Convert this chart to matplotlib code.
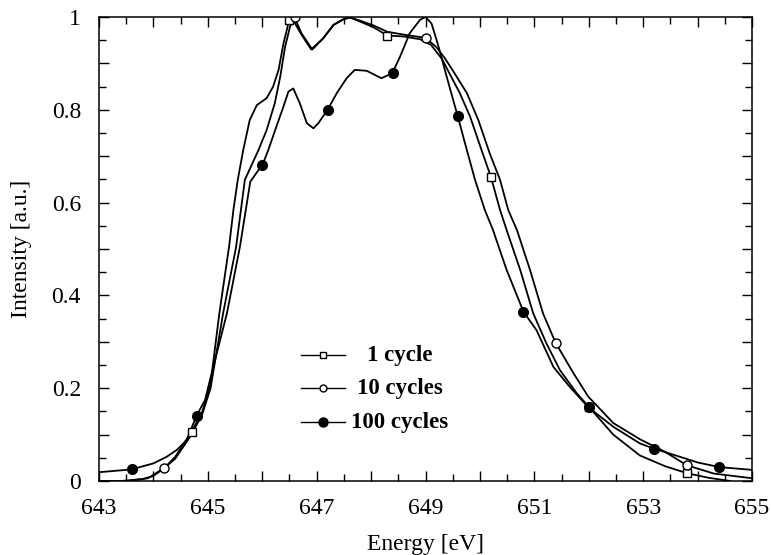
import matplotlib
matplotlib.use("Agg")
import matplotlib.pyplot as plt
from matplotlib.ticker import MultipleLocator, FuncFormatter

plt.rcParams["font.family"] = ["Liberation Serif", "DejaVu Serif"]

# spectra (energy in eV, normalised intensity)
e_1 = [643.0, 643.4, 643.8, 644.0, 644.2, 644.4, 644.7, 644.9, 645.05, 645.21,
       645.39, 645.47, 645.55, 645.65, 645.77, 645.9, 646.08, 646.2, 646.3,
       646.39, 646.48, 646.54, 646.72, 646.9, 647.12, 647.31, 647.49, 647.61,
       647.8, 648.04, 648.3, 648.6, 648.9, 649.1, 649.3, 649.5, 649.63, 649.82,
       650.03, 650.2, 650.37, 650.49, 650.74, 650.98, 651.22, 651.47, 651.78,
       652.0, 652.45, 652.94, 653.4, 653.8, 654.2, 654.6]
i_1 = [0.0, 0.0, 0.004, 0.011, 0.028, 0.052, 0.106, 0.15, 0.21, 0.36,
       0.505, 0.584, 0.649, 0.713, 0.778, 0.81, 0.825, 0.85, 0.886,
       0.943, 0.986, 0.999, 0.962, 0.93, 0.954, 0.983, 0.995, 0.999,
       0.99, 0.978, 0.96, 0.958, 0.952, 0.94, 0.91, 0.865, 0.836, 0.785,
       0.713, 0.656, 0.584, 0.541, 0.455, 0.361, 0.297, 0.239, 0.189,
       0.16, 0.1, 0.055, 0.032, 0.017, 0.007, 0.0]

e_10 = [643.5, 643.9, 644.2, 644.4, 644.7, 644.9, 645.05, 645.28, 645.52,
        645.68, 645.93, 646.08, 646.23, 646.33, 646.42, 646.51, 646.59, 646.72,
        646.92, 647.12, 647.31, 647.49, 647.61, 647.8, 648.04, 648.3, 648.6,
        649.0, 649.2, 649.35, 649.5, 649.76, 649.97, 650.18, 650.37, 650.52,
        650.68, 650.92, 651.16, 651.39, 651.72, 651.99, 652.45, 652.94, 653.4,
        653.8, 654.3, 655.0]
i_10 = [0.0, 0.006, 0.028, 0.048, 0.1, 0.145, 0.2, 0.361, 0.505,
        0.649, 0.713, 0.756, 0.814, 0.871, 0.936, 0.979, 1.0, 0.965,
        0.93, 0.954, 0.983, 0.995, 0.999, 0.992, 0.982, 0.968, 0.962,
        0.955, 0.935, 0.912, 0.885, 0.836, 0.778, 0.706, 0.649, 0.584,
        0.541, 0.455, 0.361, 0.298, 0.232, 0.182, 0.125, 0.09, 0.063,
        0.034, 0.016, 0.006]

e_100 = [643.0, 643.6, 643.75, 644.0, 644.24, 644.43, 644.61, 644.79, 644.95,
         645.04, 645.35, 645.59, 645.78, 645.93, 646.0, 646.11, 646.26, 646.39,
         646.48, 646.57, 646.69, 646.82, 646.94, 647.03, 647.2, 647.37, 647.55,
         647.7, 647.92, 648.19, 648.39, 648.53, 648.71, 648.9, 649.0, 649.11,
         649.24, 649.39, 649.59, 649.76, 649.91, 650.09, 650.24, 650.49, 650.8,
         651.04, 651.35, 651.65, 651.99, 652.45, 652.94, 653.19, 653.6, 654.0,
         654.4, 655.0]
i_100 = [0.019, 0.025, 0.03, 0.038, 0.052, 0.067, 0.088, 0.14, 0.175,
         0.218, 0.361, 0.505, 0.645, 0.67, 0.68, 0.713, 0.764, 0.807,
         0.839, 0.846, 0.814, 0.771, 0.76, 0.771, 0.8, 0.836, 0.868,
         0.886, 0.884, 0.868, 0.879, 0.914, 0.965, 0.994, 1.0, 0.986,
         0.936, 0.871, 0.787, 0.713, 0.649, 0.584, 0.541, 0.455, 0.365,
         0.325, 0.246, 0.203, 0.159, 0.117, 0.081, 0.07, 0.055, 0.04,
         0.03, 0.024]

# sparse symbols drawn on the curves
m1_e = [644.7, 646.5, 648.3, 650.2, 652.0, 653.8]
m1_i = [0.106, 0.993, 0.958, 0.656, 0.16, 0.018]
m10_e = [644.2, 646.6, 649.0, 651.4, 653.8]
m10_i = [0.028, 1.0, 0.955, 0.298, 0.034]
m100_e = [643.6, 644.8, 646.0, 647.2, 648.4, 649.6, 650.8, 652.0, 653.2, 654.4]
m100_i = [0.025, 0.14, 0.68, 0.80, 0.88, 0.787, 0.365, 0.159, 0.07, 0.03]

labels = ["1 cycle", "10 cycles", "100 cycles"]

fig = plt.figure(figsize=(7.71, 5.55), dpi=100)
ax = fig.add_axes([0.1284, 0.1333, 0.8470, 0.8361])

lw = 1.3
ax.plot(e_1, i_1, color="black", lw=lw)
ax.plot(e_10, i_10, color="black", lw=lw)
ax.plot(e_100, i_100, color="black", lw=lw)
ax.plot(m1_e, m1_i, ls="none", marker="s", ms=6, mfc="white", mec="black", mew=1.0)
ax.plot(m10_e, m10_i, ls="none", marker="o", ms=6.5, mfc="white", mec="black", mew=1.0)
ax.plot(m100_e, m100_i, ls="none", marker="o", ms=7, mfc="black", mec="black")

ax.set_xlim(643, 655)
ax.set_ylim(0, 1)

ax.xaxis.set_major_locator(MultipleLocator(1))
ax.xaxis.set_minor_locator(MultipleLocator(0.5))
ax.xaxis.set_major_formatter(FuncFormatter(
    lambda v, p: "%d" % round(v) if round(v - 643) % 2 == 0 else ""))
ax.yaxis.set_major_locator(MultipleLocator(0.1))
ax.yaxis.set_minor_locator(MultipleLocator(0.05))
ax.yaxis.set_major_formatter(FuncFormatter(
    lambda v, p: "%g" % round(v, 1) if round(v * 10) % 2 == 0 else ""))

ax.tick_params(which="both", direction="in", top=True, right=True,
               labelsize=17, width=1.0)
ax.tick_params(axis="x", which="major", pad=12)
ax.tick_params(axis="y", which="major", pad=13)
ax.tick_params(which="major", length=7)
ax.tick_params(which="minor", length=5)
for s in ax.spines.values():
    s.set_linewidth(1.1)

ax.set_xlabel("Energy [eV]", fontsize=17, labelpad=11)
ax.set_ylabel("Intensity [a.u.]", fontsize=17, labelpad=14)

# legend drawn by hand: short line with symbol, label centred to its right
leg_styles = [
    dict(marker="s", ms=5, mfc="white", mec="black"),
    dict(marker="o", ms=5, mfc="white", mec="black"),
    dict(marker="o", ms=6.5, mfc="black", mec="black"),
]
leg_y = [0.271, 0.2, 0.127]
for lab, st, y in zip(labels, leg_styles, leg_y):
    ax.plot([0.309, 0.376], [y, y], transform=ax.transAxes, color="black",
            lw=1.0, clip_on=False)
    ax.plot([0.343], [y], transform=ax.transAxes, ls="none", clip_on=False, **st)
    ax.text(0.461, y, lab, transform=ax.transAxes, ha="center", va="center",
            fontsize=16.5, fontweight="bold")

fig.savefig("out.png", dpi=100)
